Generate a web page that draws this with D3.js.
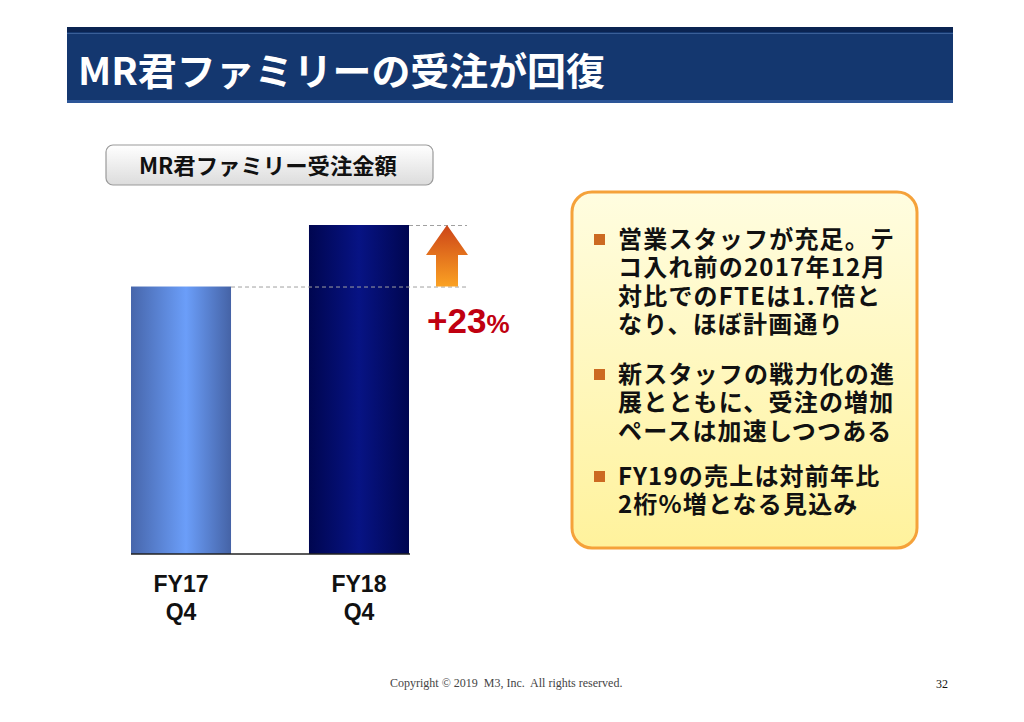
<!DOCTYPE html>
<html>
<head>
<meta charset="utf-8">
<script src="https://cdn.jsdelivr.net/npm/d3@7"></script>
<style>
  body { margin: 0; background: #fff; }
  svg { display: block; }
</style>
</head>
<body>
<div id="chart"></div>
<script>
// chart data
const slideTitle = "MR君ファミリーの受注が回復";
const panelTitle = "MR君ファミリー受注金額";
const categories = ["FY17 Q4", "FY18 Q4"];
const values = [100, 123];          // indexed order amount (FY17 Q4 = 100)
const growthLabel = ["+23", "%"];
const bullets = [
    ["営業スタッフが充足。テ", "コ入れ前の2017年12月", "対比でのFTEは1.7倍と", "なり、ほぼ計画通り"],
    ["新スタッフの戦力化の進", "展とともに、受注の増加", "ペースは加速しつつある"],
    ["FY19の売上は対前年比", "2桁%増となる見込み"]
];
const footer = "Copyright © 2019  M3, Inc.  All rights reserved.";
const pageNo = "32";

const W = 1024, H = 722;
const jp = "'Noto Sans CJK JP', 'Noto Sans', sans-serif";
const latin = "'Liberation Sans', Arial, sans-serif";
const serif = "'Liberation Serif', 'Times New Roman', serif";

const svg = d3.select("#chart").append("svg")
    .attr("width", W)
    .attr("height", H);

const defs = svg.append("defs");

function hGradient(id, stops) {
    let g = defs.append("linearGradient").attr("id", id)
        .attr("x1", "0%").attr("x2", "100%").attr("y1", "0%").attr("y2", "0%");
    stops.forEach(s => g.append("stop").attr("offset", s[0]).attr("stop-color", s[1]));
}
function vGradient(id, stops) {
    let g = defs.append("linearGradient").attr("id", id)
        .attr("x1", "0%").attr("x2", "0%").attr("y1", "0%").attr("y2", "100%");
    stops.forEach(s => g.append("stop").attr("offset", s[0]).attr("stop-color", s[1]));
}

hGradient("bar0", [["0%", "#4766ab"], ["55%", "#6b9ef9"], ["100%", "#4563a6"]]);
hGradient("bar1", [["0%", "#000650"], ["50%", "#071384"], ["100%", "#000650"]]);
vGradient("arrowGrad", [["0%", "#cc4418"], ["100%", "#fba223"]]);
vGradient("labelGrad", [["0%", "#ffffff"], ["100%", "#dcdcdc"]]);
vGradient("boxGrad", [["0%", "#fffde0"], ["100%", "#fff29c"]]);

// header band
svg.append("rect").attr("x", 67).attr("y", 27).attr("width", 886).attr("height", 76).attr("fill", "#14376f");
svg.append("rect").attr("x", 67).attr("y", 27).attr("width", 886).attr("height", 5).attr("fill", "#0b2452");
svg.append("rect").attr("x", 67).attr("y", 33).attr("width", 886).attr("height", 1).attr("fill", "#3a5f98");
svg.append("rect").attr("x", 67).attr("y", 100).attr("width", 886).attr("height", 3).attr("fill", "#2c5597");

svg.append("text")
    .attr("x", 78).attr("y", 85)
    .attr("fill", "#fff")
    .style("font-family", jp).style("font-weight", 700).style("font-size", "38px")
    .attr("textLength", 527).attr("lengthAdjust", "spacingAndGlyphs")
    .text(slideTitle);

// panel label
svg.append("rect")
    .attr("x", 106).attr("y", 145).attr("width", 327).attr("height", 40).attr("rx", 7)
    .attr("fill", "url(#labelGrad)").attr("stroke", "#9a9a9a").attr("stroke-width", 1.2);
svg.append("text")
    .attr("x", 139).attr("y", 174)
    .attr("fill", "#111")
    .style("font-family", jp).style("font-weight", 700).style("font-size", "22px")
    .attr("textLength", 258).attr("lengthAdjust", "spacingAndGlyphs")
    .text(panelTitle);

// bar chart
const x = d3.scaleBand()
    .domain(categories)
    .range([131, 409])
    .paddingInner(0.438)
    .paddingOuter(0);

const y = d3.scaleLinear()
    .domain([0, d3.max(values)])
    .range([554, 225]);

const chart = svg.append("g");

chart.selectAll(".bar")
    .data(values)
    .enter().append("rect")
    .attr("class", "bar")
    .attr("x", (d, i) => x(categories[i]))
    .attr("y", d => y(d))
    .attr("width", x.bandwidth())
    .attr("height", d => y(0) - y(d))
    .attr("fill", (d, i) => "url(#bar" + i + ")");

// baseline
chart.append("line")
    .attr("x1", x.range()[0]).attr("x2", x.range()[1] + 1)
    .attr("y1", y(0)).attr("y2", y(0))
    .attr("stroke", "#222").attr("stroke-width", 1.5);

// dashed guide lines from bar tops
const guideEnd = 467;
chart.selectAll(".guide")
    .data(values)
    .enter().append("line")
    .attr("class", "guide")
    .attr("x1", (d, i) => x(categories[i]) + x.bandwidth())
    .attr("x2", guideEnd)
    .attr("y1", d => y(d) + 0.5).attr("y2", d => y(d) + 0.5)
    .attr("stroke", "#a0a0a0").attr("stroke-width", 1)
    .attr("stroke-dasharray", "4,3");

// growth arrow
const ax = 447, yTop = y(values[1]), yBot = y(values[0]);
const headH = 30, headW = 21, shaftW = 11;
chart.append("path")
    .attr("d", `M${ax},${yTop} L${ax + headW},${yTop + headH} L${ax + shaftW},${yTop + headH}
                L${ax + shaftW},${yBot} L${ax - shaftW},${yBot} L${ax - shaftW},${yTop + headH}
                L${ax - headW},${yTop + headH} Z`)
    .attr("fill", "url(#arrowGrad)");

const growth = chart.append("text")
    .attr("x", 427).attr("y", 333)
    .attr("fill", "#c00010")
    .style("font-family", latin).style("font-weight", 700);
growth.append("tspan").style("font-size", "35px").text(growthLabel[0]);
growth.append("tspan").style("font-size", "26px").text(growthLabel[1]);

// category labels (two lines)
chart.selectAll(".cat")
    .data(categories)
    .enter().append("text")
    .attr("class", "cat")
    .attr("text-anchor", "middle")
    .attr("fill", "#111")
    .style("font-family", latin).style("font-weight", 700).style("font-size", "23px")
    .each(function(d) {
        let parts = d.split(" ");
        let t = d3.select(this);
        parts.forEach((p, j) => {
            t.append("tspan")
                .attr("x", x(d) + x.bandwidth() / 2)
                .attr("y", 592 + j * 28)
                .text(p);
        });
    });

// comment box
svg.append("rect")
    .attr("x", 572).attr("y", 192).attr("width", 345).attr("height", 356).attr("rx", 20)
    .attr("fill", "url(#boxGrad)").attr("stroke", "#f5a23a").attr("stroke-width", 3);

const bulletTops = [248, 383, 485];
const lineH = 28.3;
bullets.forEach((lines, i) => {
    svg.append("rect")
        .attr("x", 594).attr("y", bulletTops[i] - 14)
        .attr("width", 11).attr("height", 11)
        .attr("fill", "#cc6a22");
    let t = svg.append("text")
        .attr("y", bulletTops[i])
        .attr("fill", "#111")
        .style("font-family", jp).style("font-weight", 700).style("font-size", "24px")
        .style("letter-spacing", "1.2px");
    lines.forEach((ln, j) => {
        t.append("tspan")
            .attr("x", 618)
            .attr("y", bulletTops[i] + j * lineH)
            .text(ln);
    });
});

// footer
svg.append("text")
    .attr("x", 390).attr("y", 687)
    .attr("fill", "#444")
    .style("font-family", serif).style("font-size", "12px")
    .style("white-space", "pre")
    .text(footer);
svg.append("text")
    .attr("x", 948).attr("y", 688)
    .attr("text-anchor", "end")
    .attr("fill", "#111")
    .style("font-family", serif).style("font-size", "12px")
    .text(pageNo);
</script>
</body>
</html>
